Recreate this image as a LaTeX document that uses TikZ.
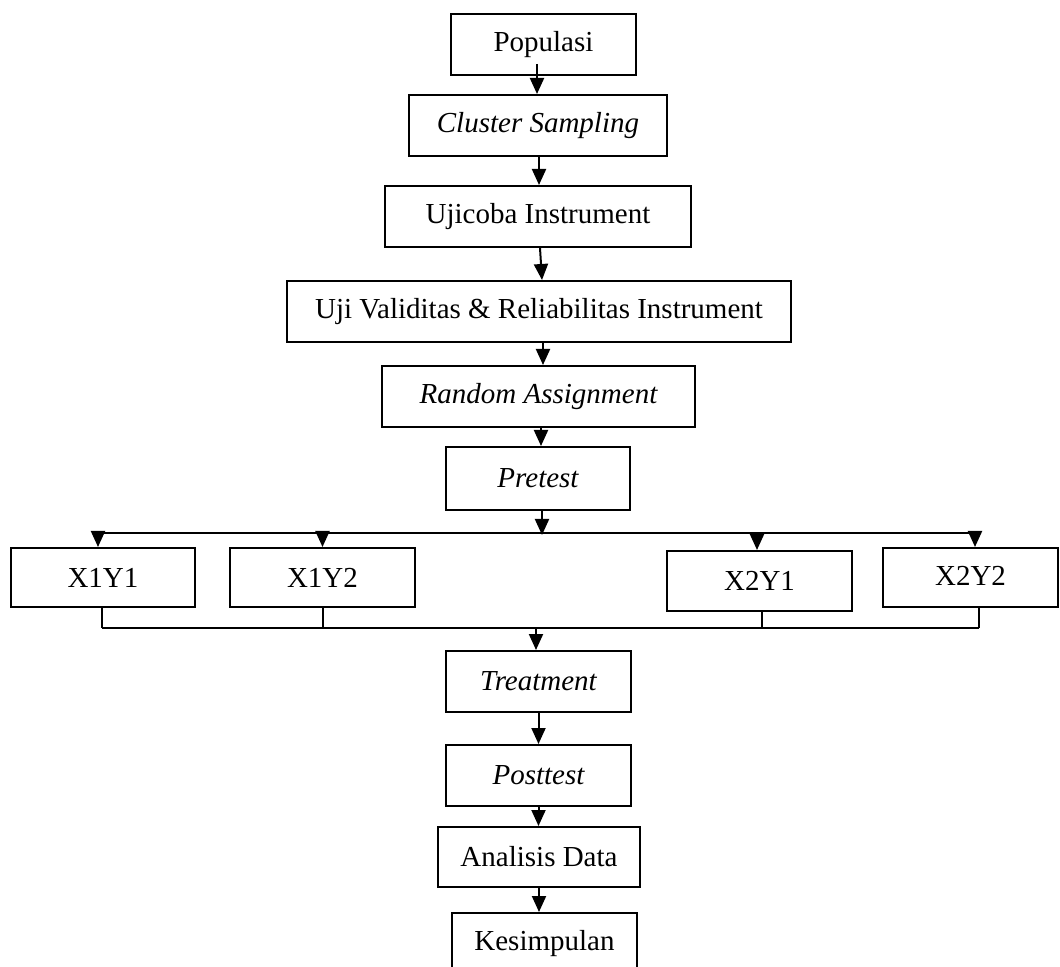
\documentclass[tikz,border=0pt]{standalone}
\usepackage{fontspec}
\setmainfont{Liberation Serif}
\usetikzlibrary{arrows.meta,calc}
\tikzset{
  box/.style={draw, line width=1pt, inner sep=0pt, align=center, font=\fontsize{14.5}{17}\selectfont},
  conn/.style={line width=1pt},
  arr/.style={line width=1pt, -{Triangle[length=8pt,width=7pt]}}
}
\begin{document}
\begin{tikzpicture}[x=0.5pt,y=-0.5pt]
\useasboundingbox (0,0) rectangle (1060,967);
% boxes
\node[box, minimum width=92.5pt, minimum height=30.5pt] (pop) at (543.5,44.5) {Populasi};
\node[box, minimum width=129pt, minimum height=30.5pt] (clus) at (538,125.5) {\itshape Cluster Sampling};
\node[box, minimum width=153pt, minimum height=30.5pt] (ujc) at (538,216.5) {Ujicoba Instrument};
\node[box, minimum width=252pt, minimum height=30.5pt] (uji) at (539,311.5) {Uji Validitas \& Reliabilitas Instrument};
\node[box, minimum width=156.5pt, minimum height=30.5pt] (rand) at (538.5,396.5) {\itshape Random Assignment};
\node[box, minimum width=92pt, minimum height=31.5pt] (pre) at (538,478.5) {\itshape Pretest};
\node[box, minimum width=92pt, minimum height=29.5pt] (x11) at (103,577.5) {X1Y1};
\node[box, minimum width=92.5pt, minimum height=29.5pt] (x12) at (322.5,577.5) {X1Y2};
\node[box, minimum width=92.5pt, minimum height=30pt] (x21) at (759.5,581) {X2Y1};
\node[box, minimum width=87.5pt, minimum height=29.5pt] (x22) at (970.5,577.5) {\raisebox{2pt}{X2Y2}};
\node[box, minimum width=92.5pt, minimum height=30.5pt] (treat) at (538.5,681.5) {\itshape Treatment};
\node[box, minimum width=92.5pt, minimum height=30.5pt] (post) at (538.5,775.5) {\itshape Posttest};
\node[box, minimum width=101pt, minimum height=30pt] (ana) at (539,857) {Analisis Data};
\node[box, minimum width=92.5pt, minimum height=31pt] (kes) at (544.5,944) {\raisebox{1pt}{Kesimpulan}};
% helper coordinates
\coordinate (split) at (542,533);
\coordinate (merge) at (536,628);
% vertical chain
\draw[arr] ([xshift=-3.25pt,yshift=6pt]pop.south) -- ([xshift=-3.25pt]pop.south |- clus.north);
\draw[arr] ([xshift=0.5pt]clus.south) -- ([xshift=0.5pt]clus.south |- ujc.north);
\draw[arr] ([xshift=1pt]ujc.south) -- ([xshift=2pt]ujc.south |- uji.north);
\draw[arr] ([xshift=2pt]uji.south) -- ([xshift=2pt]uji.south |- rand.north);
\draw[arr] ([xshift=1.25pt]rand.south) -- ([xshift=1.25pt]rand.south |- pre.north);
\draw[arr] ([xshift=2pt]pre.south) -- ([yshift=-1pt]split);
% branch
\draw[conn] ([xshift=-2.5pt]x11.north |- split) -- ([xshift=2.25pt]x22.north |- split);
\draw[arr] ([xshift=-2.5pt]x11.north |- split) -- ([xshift=-2.5pt]x11.north);
\draw[arr] (x12.north |- split) -- (x12.north);
\draw[arr] ([xshift=-1.25pt]x21.north |- split) -- ([xshift=-1.25pt]x21.north);
\draw[arr] ([xshift=2.25pt]x22.north |- split) -- ([xshift=2.25pt]x22.north);
% merge
\draw[conn] ([xshift=-0.5pt]x11.south) -- ([xshift=-0.5pt]x11.south |- merge);
\draw[conn] (x12.south) -- (x12.south |- merge);
\draw[conn] ([xshift=1.25pt]x21.south) -- ([xshift=1.25pt]x21.south |- merge);
\draw[conn] ([xshift=4.25pt]x22.south) -- ([xshift=4.25pt]x22.south |- merge);
\draw[conn] ([xshift=-0.5pt]x11.south |- merge) -- ([xshift=4.25pt]x22.south |- merge);
\draw[arr] (merge) -- (merge |- treat.north);
% lower chain
\draw[arr] (treat.south) -- (treat.south |- post.north);
\draw[arr] (post.south) -- (post.south |- ana.north);
\draw[arr] (ana.south) -- (ana.south |- kes.north);
\end{tikzpicture}
\end{document}
